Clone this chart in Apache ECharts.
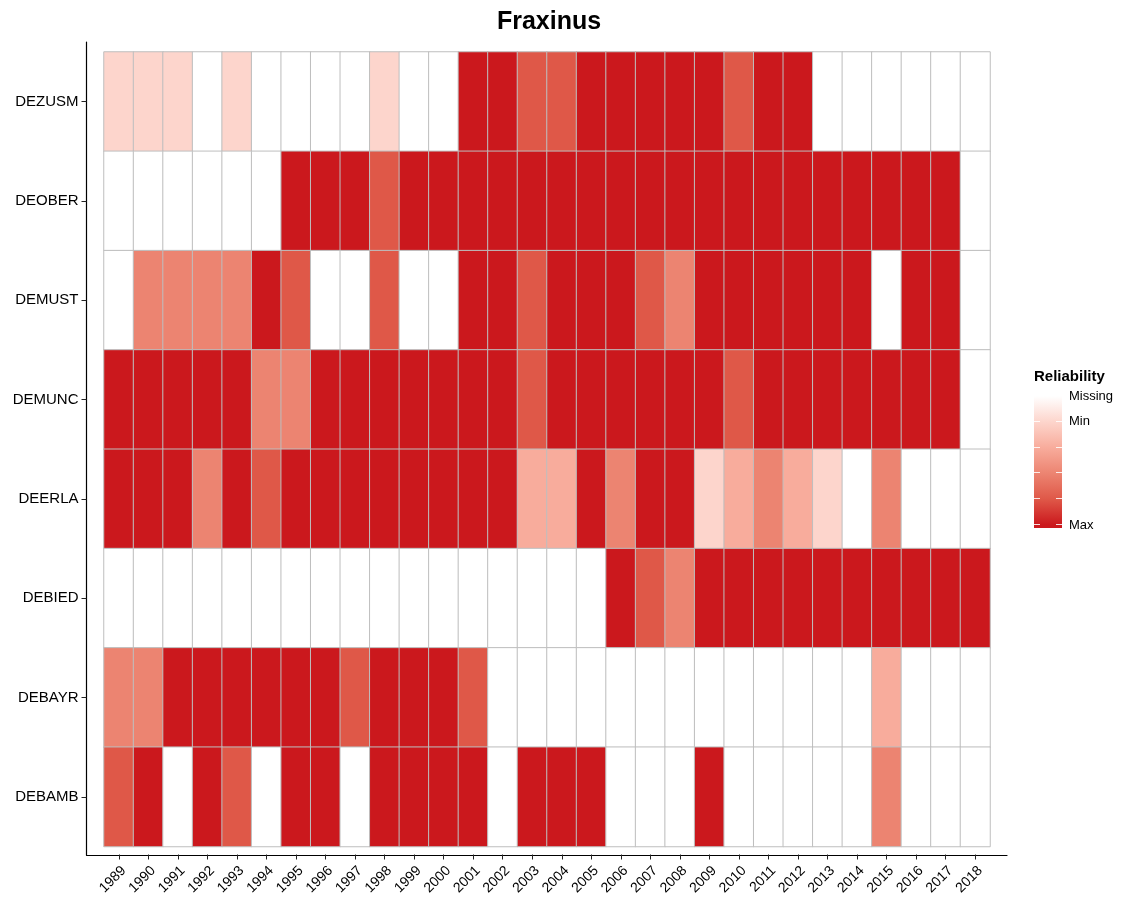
<!DOCTYPE html>
<html>
<head>
<meta charset="utf-8">
<title>Fraxinus</title>
<script src="https://cdn.jsdelivr.net/npm/echarts@6/dist/echarts.min.js"></script>
<style>
  html, body { margin: 0; padding: 0; background: #ffffff; }
  #chart { width: 1124px; height: 901px; }
</style>
</head>
<body>
<div id="chart"></div>
<script>
// Years on the x axis
const years = [
  '1989','1990','1991','1992','1993','1994','1995','1996','1997','1998',
  '1999','2000','2001','2002','2003','2004','2005','2006','2007','2008',
  '2009','2010','2011','2012','2013','2014','2015','2016','2017','2018'
];

// Stations, top to bottom
const stations = ['DEZUSM', 'DEOBER', 'DEMUST', 'DEMUNC', 'DEERLA', 'DEBIED', 'DEBAYR', 'DEBAMB'];

// Reliability per year: 0 = missing, 1 = min ... 5 = max
const DEZUSM = [1,1,1,0,1,0,0,0,0,1,0,0,5,5,4,4,5,5,5,5,5,4,5,5,0,0,0,0,0,0];
const DEOBER = [0,0,0,0,0,0,5,5,5,4,5,5,5,5,5,5,5,5,5,5,5,5,5,5,5,5,5,5,5,0];
const DEMUST = [0,3,3,3,3,5,4,0,0,4,0,0,5,5,4,5,5,5,4,3,5,5,5,5,5,5,0,5,5,0];
const DEMUNC = [5,5,5,5,5,3,3,5,5,5,5,5,5,5,4,5,5,5,5,5,5,4,5,5,5,5,5,5,5,0];
const DEERLA = [5,5,5,3,5,4,5,5,5,5,5,5,5,5,2,2,5,3,5,5,1,2,3,2,1,0,3,0,0,0];
const DEBIED = [0,0,0,0,0,0,0,0,0,0,0,0,0,0,0,0,0,5,4,3,5,5,5,5,5,5,5,5,5,5];
const DEBAYR = [3,3,5,5,5,5,5,5,4,5,5,5,4,0,0,0,0,0,0,0,0,0,0,0,0,0,2,0,0,0];
const DEBAMB = [4,5,0,5,4,0,5,5,0,5,5,5,5,0,5,5,5,0,0,0,5,0,0,0,0,0,3,0,0,0];

// Colour ramp from missing (white) through min to max
const ramp = ['#ffffff', '#fdd5cc', '#f8ac9c', '#ec8471', '#df5848', '#cb181d'];

const rows = { DEZUSM, DEOBER, DEMUST, DEMUNC, DEERLA, DEBIED, DEBAYR, DEBAMB };
const cells = [];
stations.forEach((st, yi) => {
  rows[st].forEach((v, xi) => cells.push([xi, yi, v]));
});

const FONT = '"Liberation Sans", Arial, Helvetica, sans-serif';

// Colour bar geometry (legend)
const barLeft = 1034, barTop = 393, barW = 28, barH = 135;
const vMin = 0, vMax = 5;
const valToY = v => barTop + 3 + (barH - 6) * (v - vMin) / (vMax - vMin);

const legendGraphics = [
  { type: 'text', left: barLeft, top: 369,
    style: { text: 'Reliability', font: 'bold 15px ' + FONT, fill: '#000' } },
  { type: 'rect', shape: { x: barLeft, y: barTop, width: barW, height: barH },
    style: {
      fill: new echarts.graphic.LinearGradient(0, 0, 0, 1,
        ramp.map((c, i) => ({ offset: (valToY(i) - barTop) / barH, color: c })).concat(
          [{ offset: 0, color: ramp[0] }, { offset: 1, color: ramp[ramp.length - 1] }]
        ).sort((a, b) => a.offset - b.offset))
    } }
];
[[0, 'Missing'], [1, 'Min'], [5, 'Max']].forEach(([v, t]) => {
  legendGraphics.push({
    type: 'text', x: barLeft + barW + 7, y: valToY(v),
    style: { text: t, font: '13px ' + FONT, fill: '#000', verticalAlign: 'middle', align: 'left' }
  });
});
[1, 2, 3, 4, 5].forEach(v => {
  const y = Math.round(valToY(v)) - 0.5;
  legendGraphics.push(
    { type: 'line', shape: { x1: barLeft, y1: y, x2: barLeft + 6, y2: y }, style: { stroke: '#ffffff', lineWidth: 1, opacity: 0.85 }, z: 100 },
    { type: 'line', shape: { x1: barLeft + barW - 6, y1: y, x2: barLeft + barW, y2: y }, style: { stroke: '#ffffff', lineWidth: 1, opacity: 0.85 }, z: 100 }
  );
});

const chart = echarts.init(document.getElementById('chart'), null, { renderer: 'canvas' });
chart.setOption({
  backgroundColor: '#ffffff',
  animation: false,
  title: {
    text: 'Fraxinus',
    left: 544, top: 5, textAlign: 'center',
    textStyle: { fontFamily: FONT, fontWeight: 'bold', fontSize: 25, color: '#000' }
  },
  grid: [
    { left: 104, top: 52, right: 134, bottom: 54.5, containLabel: false },
    { left: 86.5, top: 42, right: 117, bottom: 46, containLabel: false }
  ],
  xAxis: [
    {
      type: 'category', gridIndex: 0, data: years, offset: 8,
      axisLine: { show: false },
      axisTick: { show: true, alignWithLabel: true, length: 5, lineStyle: { color: '#222', width: 1 } },
      axisLabel: { rotate: 45, margin: 9, verticalAlign: 'top', fontFamily: FONT, fontSize: 14, color: '#000', interval: 0 },
      splitLine: { show: false }
    },
    {
      type: 'value', gridIndex: 1, min: 0, max: 1,
      axisLine: { show: true, onZero: false, lineStyle: { color: '#000', width: 1.2 } },
      axisTick: { show: false }, axisLabel: { show: false }, splitLine: { show: false }
    }
  ],
  yAxis: [
    {
      type: 'category', gridIndex: 0, data: stations, inverse: true, offset: 17.5,
      axisLine: { show: false },
      axisTick: { show: true, alignWithLabel: true, length: 5, lineStyle: { color: '#222', width: 1 } },
      axisLabel: { margin: 8, fontFamily: FONT, fontSize: 15, color: '#000' },
      splitLine: { show: false }
    },
    {
      type: 'value', gridIndex: 1, min: 0, max: 1,
      axisLine: { show: true, onZero: false, lineStyle: { color: '#000', width: 1.2 } },
      axisTick: { show: false }, axisLabel: { show: false }, splitLine: { show: false }
    }
  ],
  visualMap: {
    type: 'continuous',
    show: false,
    min: vMin, max: vMax,
    dimension: 2,
    seriesIndex: 0,
    inRange: { color: ramp }
  },
  series: [{
    type: 'heatmap',
    xAxisIndex: 0, yAxisIndex: 0,
    data: cells,
    itemStyle: { borderColor: '#bebebe', borderWidth: 1 },
    emphasis: { disabled: true }
  }],
  graphic: legendGraphics
});
</script>
</body>
</html>
